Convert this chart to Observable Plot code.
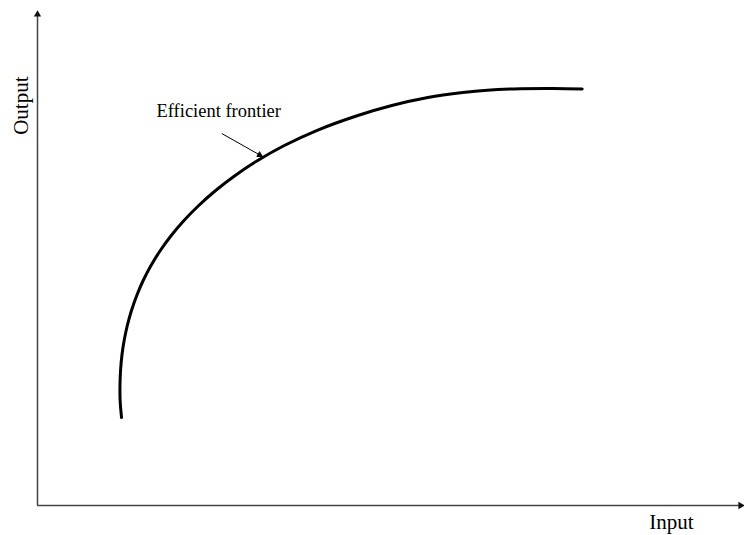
<!DOCTYPE html>
<html>
<head>
<meta charset="utf-8">
<script src="https://cdn.jsdelivr.net/npm/d3@7"></script>
<script src="https://cdn.jsdelivr.net/npm/@observablehq/plot@0.6"></script>
<style>
  html, body { margin: 0; padding: 0; background: #fff; }
  svg { display: block; }
</style>
</head>
<body>
<div id="chart"></div>
<script>
// Efficient frontier curve (input, output)
const frontierInput  = [11.92, 11.72, 11.70, 11.78, 11.97, 12.29, 12.74, 13.33, 14.08, 14.99, 16.10, 17.42, 18.97, 20.78, 22.87, 25.27, 28.04, 31.23, 35.01, 39.59, 45.44, 50.26, 55.37, 60.33, 63.79, 68.51, 73.19, 77.26];
const frontierOutput = [17.85, 21.30, 24.34, 27.38, 30.43, 33.47, 36.51, 39.55, 42.60, 45.64, 48.68, 51.72, 54.77, 57.81, 60.85, 63.89, 66.94, 69.98, 73.02, 76.06, 79.11, 81.14, 82.76, 83.77, 84.24, 84.54, 84.60, 84.48];

// Axis extents
const axisMax = 100;

// Annotation
const annotationText = "Efficient frontier";
const annotationLabel = {x: 25.7, y: 80.1};
const annotationArrow = {x1: 26.2, y1: 75.4, x2: 31.9, y2: 70.8};

// Axis titles
const xTitle = "Input";
const yTitle = "Output";

const curve = frontierInput.map((x, i) => ({x, y: frontierOutput[i]}));

const font = "'Liberation Serif', 'DejaVu Serif', serif";

const chart = Plot.plot({
  width: 744,
  height: 535,
  marginLeft: 37,
  marginRight: 2,
  marginTop: 12,
  marginBottom: 30,
  x: {domain: [0, axisMax], axis: null},
  y: {domain: [0, axisMax], axis: null},
  style: {fontFamily: font, background: "#fff", overflow: "visible"},
  marks: [
    // axes
    Plot.ruleY([0], {x1: 0, x2: axisMax, stroke: "#444", strokeWidth: 1.5}),
    Plot.ruleX([0], {y1: 0, y2: axisMax, stroke: "#444", strokeWidth: 1.5}),
    Plot.dot([{x: 0, y: axisMax}], {x: "x", y: "y", symbol: "triangle2", r: 3.5, fill: "#111", dy: 2}),
    Plot.dot([{x: axisMax, y: 0}], {x: "x", y: "y", symbol: "triangle2", r: 3.5, fill: "#111", rotate: 90, dx: -2}),
    // frontier
    Plot.line(curve, {x: "x", y: "y", curve: "catmull-rom", stroke: "#000", strokeWidth: 3}),
    // annotation
    Plot.arrow([annotationArrow], {x1: "x1", y1: "y1", x2: "x2", y2: "y2", stroke: "#000", strokeWidth: 1, headLength: 8, insetEnd: 0}),
    Plot.dot([annotationArrow], {x: "x2", y: "y2", symbol: "triangle2", r: 2.6, fill: "#000", rotate: 120, dx: -3.2, dy: -1.8}),
    Plot.text([annotationLabel], {x: "x", y: "y", text: () => annotationText, fontSize: 18.5, fill: "#000", textAnchor: "middle"}),
    // axis titles
    Plot.text([{x: 89.9, y: -3.3}], {x: "x", y: "y", text: () => xTitle, fontSize: 21, fill: "#000"}),
    Plot.text([{x: -2.3, y: 81.1}], {x: "x", y: "y", text: () => yTitle, fontSize: 21, fill: "#000", rotate: -90})
  ]
});

document.getElementById("chart").appendChild(chart);
</script>
</body>
</html>
